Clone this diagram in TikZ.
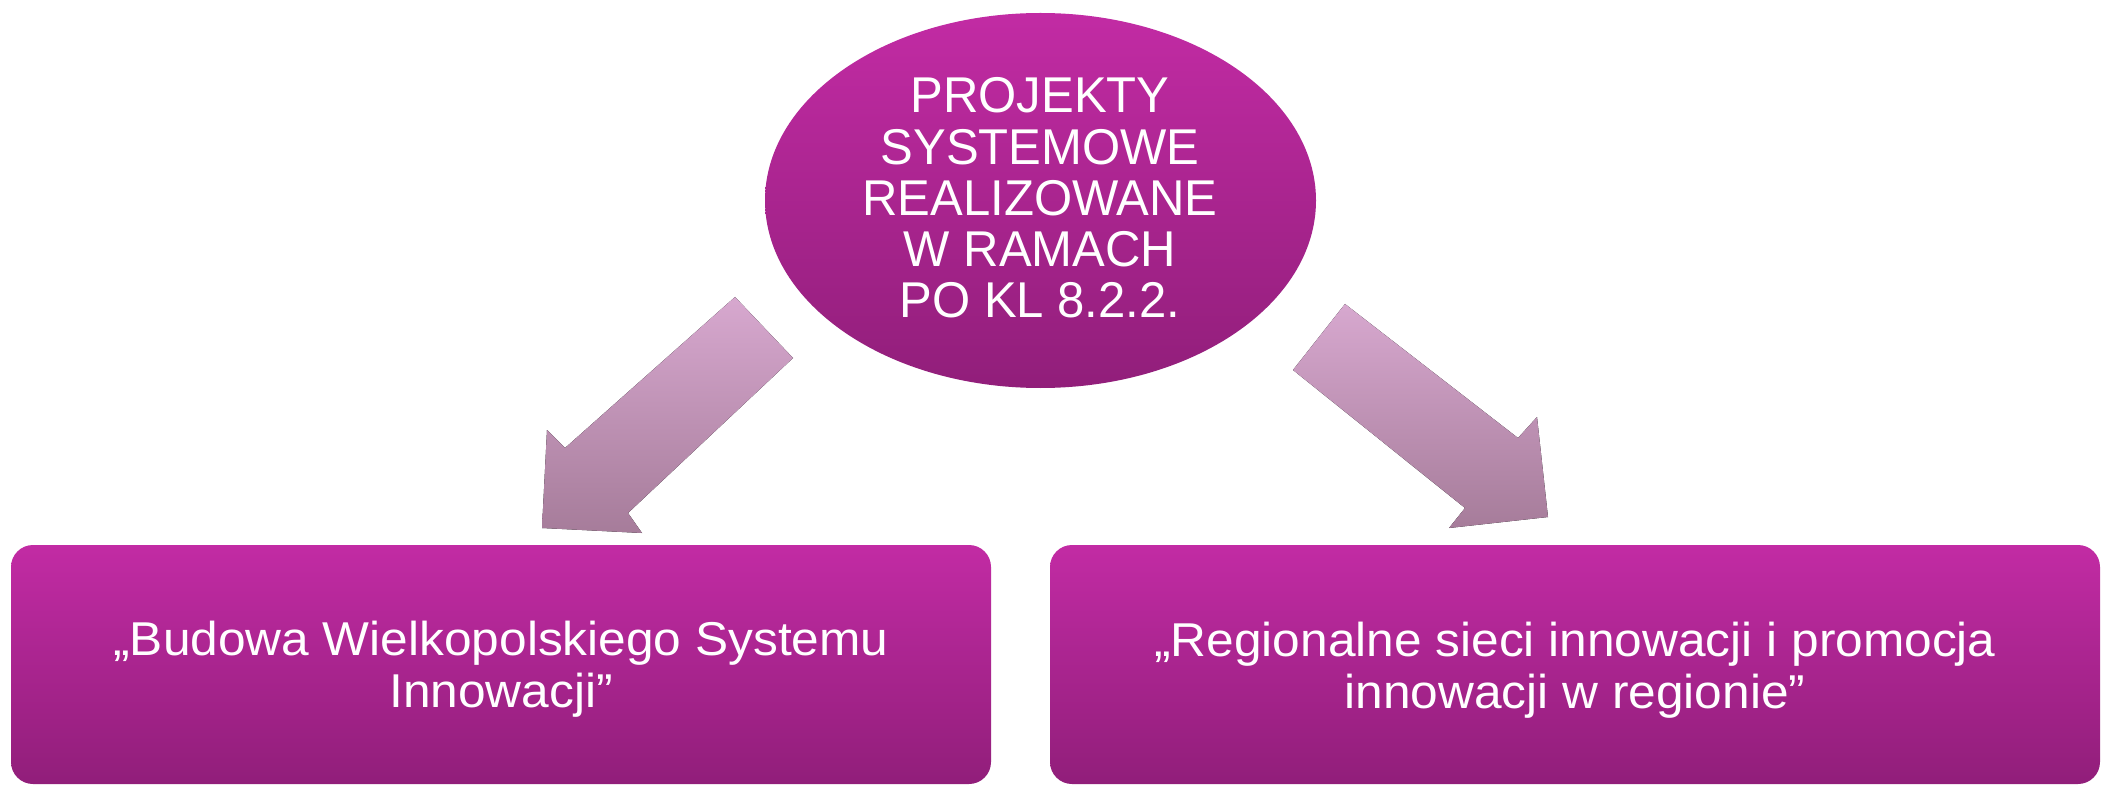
\documentclass[tikz,border=0pt]{standalone}
\usepackage{fontspec}
\setmainfont{Liberation Sans}
\newfontfamily\elfont[FakeStretch=0.975]{Liberation Sans}
\newfontfamily\bxfont[FakeStretch=1.045]{Liberation Sans}
\usetikzlibrary{shapes.geometric}
\definecolor{magtop}{RGB}{194,43,164}
\definecolor{magbot}{RGB}{145,30,122}
\definecolor{arrtop}{RGB}{215,168,207}
\definecolor{arrbot}{RGB}{166,124,154}
\tikzset{
  magfill/.style={top color=magtop, bottom color=magbot, draw=none},
  arrfill/.style={top color=arrtop, bottom color=arrbot, draw=none},
  boxnode/.style={magfill, rectangle, rounded corners=22pt, inner sep=0pt, minimum height=239pt},
  eltext/.style={text=white, align=center, anchor=base, inner sep=0pt, font={\elfont\fontsize{50.3pt}{51.25pt}\selectfont}},
  bxtext/.style={text=white, align=center, anchor=base, inner sep=0pt, font={\bxfont\fontsize{47.5pt}{52pt}\selectfont}}
}
\begin{document}
\begin{tikzpicture}[x=1pt,y=-1pt]
\useasboundingbox (0,0) rectangle (2105,786);
\fill[white] (0,0) rectangle (2105,786);
% top ellipse
\node[magfill, ellipse, inner sep=0pt, minimum width=551pt, minimum height=375pt] (ell) at (1040.5,200.5) {};
\node[eltext] (elltext) at (1040,318) {PROJEKTY\\SYSTEMOWE\\REALIZOWANE\\W RAMACH\\PO KL 8.2.2.};
% bottom boxes
\node[boxnode, minimum width=980pt] (lb) at (501,664.5) {};
\node[boxnode, minimum width=1050pt] (rb) at (1575,664.5) {};
\node[bxtext] (lbtext) at (501,707) {„Budowa Wielkopolskiego Systemu\\Innowacji”};
\node[bxtext] (rbtext) at (1575,708) {„Regionalne sieci innowacji i promocja\\innowacji w regionie”};
% block arrows
\coordinate (la1) at (735,297);
\coordinate (la2) at (793,358);
\coordinate (la3) at (628,513);
\coordinate (la4) at (642,533);
\coordinate (latip) at (542,528);
\coordinate (la6) at (547,430);
\coordinate (la7) at (565,448);
\fill[arrfill] (la1) -- (la2) -- (la3) -- (la4) -- (latip) -- (la6) -- (la7) -- cycle;
\coordinate (ra1) at (1345,304);
\coordinate (ra2) at (1518,438);
\coordinate (ra3) at (1537,417);
\coordinate (ratip) at (1548,517);
\coordinate (ra5) at (1449,528);
\coordinate (ra6) at (1465,508);
\coordinate (ra7) at (1293,370);
\fill[arrfill] (ra1) -- (ra2) -- (ra3) -- (ratip) -- (ra5) -- (ra6) -- (ra7) -- cycle;
\end{tikzpicture}
\end{document}
